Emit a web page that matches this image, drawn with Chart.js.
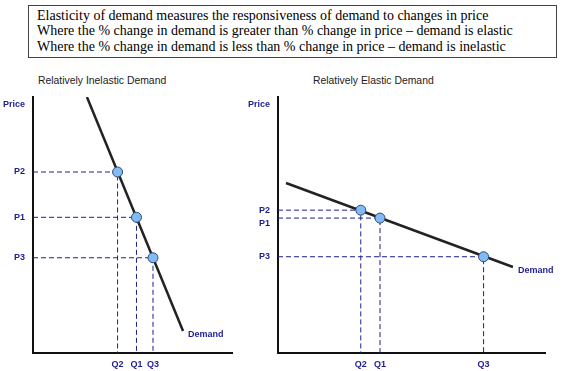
<!DOCTYPE html>
<html>
<head>
<meta charset="utf-8">
<script src="https://cdn.jsdelivr.net/npm/chart.js@4"></script>
<style>
  body { margin: 0; background: #fff; width: 567px; height: 371px; position: relative; overflow: hidden; }
  .note {
    position: absolute; left: 28px; top: 5px; width: 529px; height: 53px;
    box-sizing: border-box; border: 1px solid #444; padding: 2px 0 0 8px;
    font: 14px "Liberation Serif", "Times New Roman", serif; line-height: 15.3px; color: #000;
  }
  .title { position: absolute; top: 75px; font: 10.4px "Liberation Sans", Arial, sans-serif; color: #222; white-space: nowrap; }
  canvas { position: absolute; top: 90px; }
</style>
</head>
<body>
<div class="note">
  Elasticity of demand measures the responsiveness of demand to changes in price<br>
  Where the % change in demand is greater than % change in price – demand is elastic<br>
  Where the % change in demand is less than % change in price – demand is inelastic
</div>
<div class="title" style="left:38px">Relatively Inelastic Demand</div>
<div class="title" style="left:313px">Relatively Elastic Demand</div>
<canvas id="inelasticChart" width="240" height="281" style="left:0"></canvas>
<canvas id="elasticChart" width="327" height="281" style="left:240px"></canvas>

<script>
// --- data (axes run 0..100) ---
const pointNames = ["2", "1", "3"];           // order: P2/Q2, P1/Q1, P3/Q3
const priceLabelAt = 97;                       // where "Price" sits on the y axis

const inelasticQ = [42.5, 52, 60.3];
const inelasticP = [70.7, 53, 37.2];
const inelasticCurveQ = [27.1, 75.4];
const inelasticCurveP = [100, 8.6];

const elasticQ = [31, 38.2, 77];
const elasticP = [55.8, 52.7, 37.6];
const elasticCurveQ = [3, 88];
const elasticCurveP = [66.4, 33.6];

const BLUE = "#1e1e94";
const tickFont = { family: "Liberation Sans, Arial, sans-serif", size: 9, weight: "bold" };

// draws the "Demand" tag at the end of the curve
const endLabelPlugin = {
  id: "endLabel",
  afterDatasetsDraw(chart) {
    const ctx = chart.ctx;
    chart.data.datasets.forEach((ds, i) => {
      if (!ds.endLabel) return;
      const pts = chart.getDatasetMeta(i).data;
      const last = pts[pts.length - 1];
      ctx.save();
      ctx.font = "bold 9px Liberation Sans, Arial, sans-serif";
      ctx.fillStyle = BLUE;
      ctx.textBaseline = "middle";
      ctx.fillText(ds.endLabel, last.x + 5, last.y + 4);
      ctx.restore();
    });
  }
};

function makeChart(id, qs, ps, curveQ, curveP, axisWidth, padRight, shiftedP) {
  const guides = qs.map((q, i) => ({
    type: "line",
    data: [{ x: 0, y: ps[i] }, { x: q, y: ps[i] }, { x: q, y: 0 }],
    borderColor: BLUE,
    borderWidth: 1,
    borderDash: [5, 3],
    pointRadius: 0,
    order: 3
  }));

  const priceTicks = [priceLabelAt, ...ps];
  const priceLabels = ["Price", ...pointNames.map(n => "P" + n)];
  const qLabels = pointNames.map(n => "Q" + n);

  return new Chart(document.getElementById(id), {
    type: "scatter",
    data: {
      datasets: [
        {
          data: qs.map((q, i) => ({ x: q, y: ps[i] })),
          backgroundColor: "#82baf2",
          borderColor: "#2c4a80",
          borderWidth: 1,
          pointRadius: 5,
          order: 1
        },
        {
          type: "line",
          data: curveQ.map((q, i) => ({ x: q, y: curveP[i] })),
          borderColor: "#222",
          borderWidth: 2.5,
          pointRadius: 0,
          endLabel: "Demand",
          order: 2
        },
        ...guides
      ]
    },
    options: {
      responsive: false,
      animation: false,
      layout: { padding: { top: 7, right: padRight, left: 0, bottom: 0 } },
      plugins: { legend: { display: false }, tooltip: { enabled: false } },
      scales: {
        x: {
          type: "linear", min: 0, max: 100,
          grid: { display: false, drawTicks: false },
          border: { display: true, color: "#111", width: 2 },
          afterBuildTicks: s => { s.ticks = qs.map(v => ({ value: v })); },
          afterFit: s => { s.height = 18; s.paddingLeft = 0; s.paddingRight = 0; },
          ticks: {
            autoSkip: false, maxRotation: 0, padding: 6,
            color: BLUE, font: tickFont,
            callback: (v, i) => qLabels[i]
          }
        },
        y: {
          type: "linear", min: 0, max: 100,
          grid: { display: false, drawTicks: false },
          border: { display: true, color: "#111", width: 2 },
          afterBuildTicks: s => { s.ticks = priceTicks.map(v => ({ value: v })); },
          afterFit: s => { s.width = axisWidth; s.paddingTop = 0; s.paddingBottom = 0; },
          ticks: {
            autoSkip: false, padding: 8, crossAlign: "near",
            color: BLUE, font: tickFont, lineHeight: 1,
            // push a label down half a line when it would crowd its neighbour
            callback: (v, i) => shiftedP.includes(i) ? ["", priceLabels[i]] : priceLabels[i]
          }
        }
      }
    },
    plugins: [endLabelPlugin]
  });
}

makeChart("inelasticChart", inelasticQ, inelasticP, inelasticCurveQ, inelasticCurveP, 33, 8, []);
makeChart("elasticChart", elasticQ, elasticP, elasticCurveQ, elasticCurveP, 38, 22, [2]);
</script>
</body>
</html>
